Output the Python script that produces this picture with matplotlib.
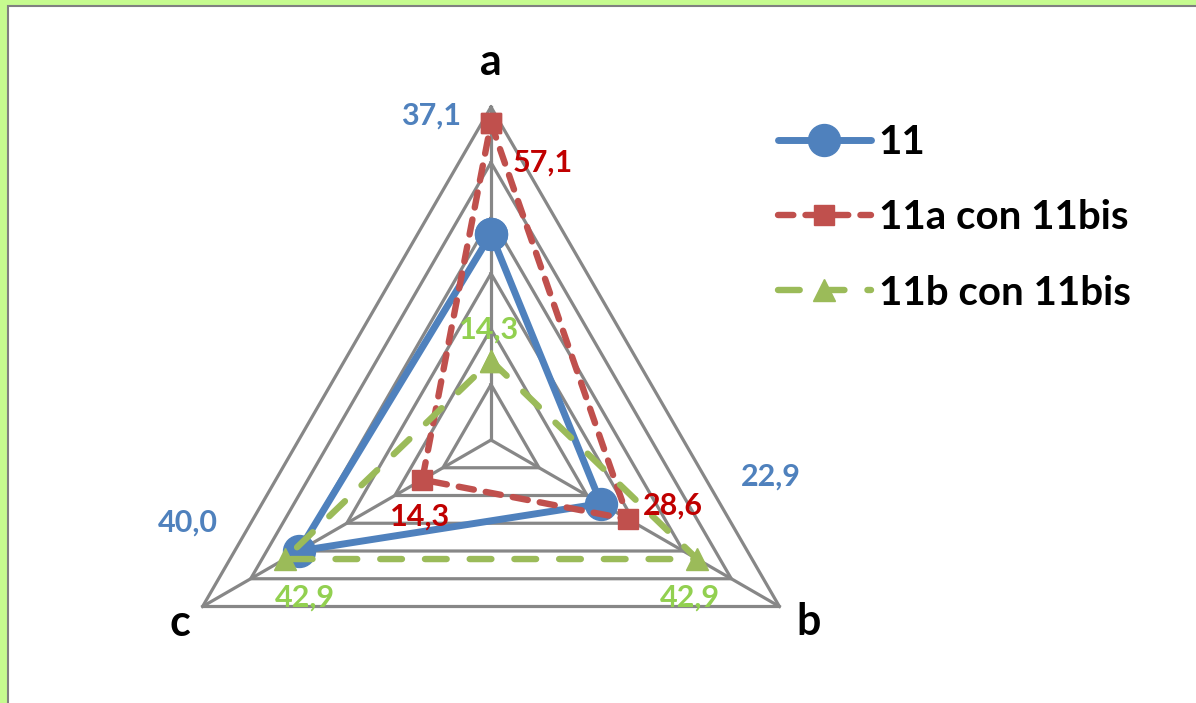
import numpy as np
import matplotlib.pyplot as plt
from matplotlib.patches import Rectangle

# data
categories = ["a", "b", "c"]
series_names = ["11", "11a con 11bis", "11b con 11bis"]
vals_11 = [37.1, 22.9, 40.0]
vals_11a = [57.1, 28.6, 14.3]
vals_11b = [14.3, 42.9, 42.9]
rings = [10, 20, 30, 40, 50, 60]

plt.rcParams["font.family"] = ["Lato", "DejaVu Sans"]

W, H = 1196, 703
fig = plt.figure(figsize=(W / 100, H / 100), dpi=100)
fig.patch.set_facecolor("#C6FB8F")
fig.add_artist(Rectangle((8 / W, -0.02), 1.1, 0.02 + (H - 6) / H, transform=fig.transFigure,
                         facecolor="white", edgecolor="#808080", lw=1.5, zorder=-10))

# axes in value units, centre of the radar at pixel (491, 440 from top)
scale = 333 / 60
cx, cy = 491, H - 440
ax = fig.add_axes([0, 0, 1, 1])
ax.set_xlim(-cx / scale, (W - cx) / scale)
ax.set_ylim(-cy / scale, (H - cy) / scale)
ax.axis("off")

theta = np.deg2rad([90, -30, 210])


def to_xy(values):
    r = np.asarray(values, dtype=float)
    return r * np.cos(theta), r * np.sin(theta)


# triangular grid
grid_col = "#878787"
for r in rings:
    gx, gy = to_xy([r] * 3)
    ax.plot(np.append(gx, gx[0]), np.append(gy, gy[0]), color=grid_col, lw=2.3, zorder=1)
ox, oy = to_xy([rings[-1]] * 3)
for x, y in zip(ox, oy):
    ax.plot([0, x], [0, y], color=grid_col, lw=2.3, zorder=1)

# category labels
cat_offsets = [(0, 45), (29, -16), (-23, -16)]
for name, x, y, off in zip(categories, ox, oy, cat_offsets):
    ax.annotate(name, (x, y), xytext=off, textcoords="offset pixels",
                ha="center", va="center", fontsize=31, fontweight="bold", color="black")

styles = [
    dict(color="#4F81BD", lw=5.0, ls="-", marker="o", ms=23),
    dict(color="#C0504D", lw=4.6, ls=(0, (2.4, 1.9)), marker="s", ms=15),
    dict(color="#9BBB59", lw=4.6, ls=(0, (3.4, 3.6)), marker="^", ms=16),
]
label_colors = ["#4F81BD", "#C00000", "#92D050"]
label_offsets = [
    [(-60, 119), (170, 27), (-111, 28)],
    [(52, -39), (44, 14), (-2, -37)],
    [(-2, 31), (-7, -39), (20, -39)],
]

handles = []
for i, (name, vals) in enumerate(zip(series_names, [vals_11, vals_11a, vals_11b])):
    x, y = to_xy(vals)
    st = styles[i]
    line, = ax.plot(np.append(x, x[0]), np.append(y, y[0]), color=st["color"], lw=st["lw"],
                    ls=st["ls"], marker=st["marker"], ms=st["ms"], mec=st["color"],
                    dash_capstyle="round", solid_capstyle="round", zorder=3 + i, label=name)
    handles.append(line)
    for v, px, py, off in zip(vals, x, y, label_offsets[i]):
        ax.annotate(f"{v:.1f}".replace(".", ","), (px, py), xytext=off, textcoords="offset pixels",
                    ha="center", va="center", fontsize=22, fontweight="bold",
                    color=label_colors[i], zorder=10)

ax.legend(handles=handles, loc="upper left", bbox_to_anchor=(778 / W, (H - 124) / H),
          bbox_transform=fig.transFigure, frameon=False,
          prop={"weight": "bold", "size": 29}, handlelength=2.3, handletextpad=0.2,
          labelspacing=0.95, borderpad=0, borderaxespad=0)

fig.savefig("out.png", dpi=100, facecolor=fig.get_facecolor())
